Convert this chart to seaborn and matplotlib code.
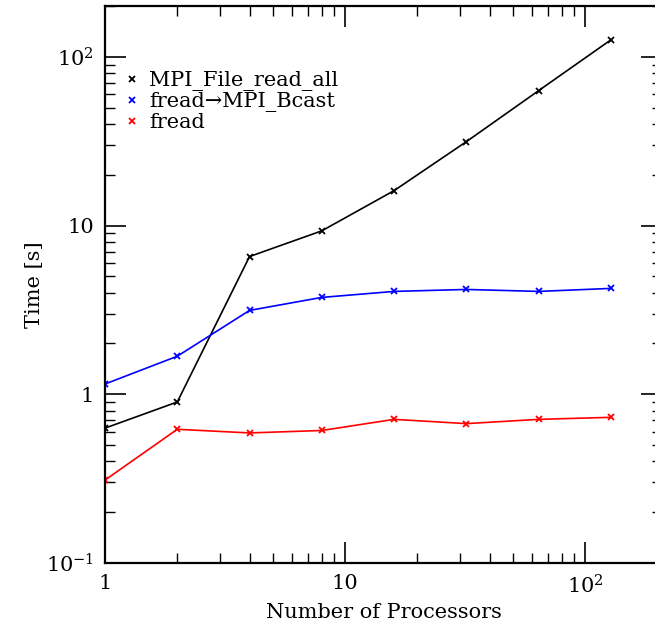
import numpy as np
import pandas as pd
import matplotlib
matplotlib.use("Agg")
import matplotlib.pyplot as plt
import matplotlib.ticker as mticker
from matplotlib.lines import Line2D
import seaborn as sns

# ---------------------- DATOS ----------------------
procs = [1, 2, 4, 8, 16, 32, 64, 128]
t_read_all = [0.63, 0.90, 6.55, 9.3, 16.1, 31.4, 63.0, 126.0]
t_bcast = [1.15, 1.68, 3.14, 3.75, 4.07, 4.18, 4.07, 4.24]
t_fread = [0.31, 0.62, 0.59, 0.61, 0.71, 0.67, 0.71, 0.73]
series = ["MPI_File_read_all", "fread\u2192MPI_Bcast", "fread"]
colors = ["black", "blue", "red"]
y_ticks = [0.1, 1, 10, 100]
y_labels = ["$10^{-1}$", "1", "10", "$10^{2}$"]
x_ticks = [1, 10, 100]
x_labels = ["1", "10", "$10^{2}$"]
# ---------------------------------------------------

df = pd.DataFrame({
    "procs": procs * 3,
    "time": t_read_all + t_bcast + t_fread,
    "method": [series[0]] * 8 + [series[1]] * 8 + [series[2]] * 8,
})

sns.set_style("ticks", {"axes.edgecolor": "black", "text.color": "black",
                        "axes.labelcolor": "black", "xtick.color": "black",
                        "ytick.color": "black"})
plt.rcParams["font.family"] = ["DejaVu Serif"]
plt.rcParams["mathtext.fontset"] = "dejavuserif"

fig = plt.figure(figsize=(6.55, 6.23), dpi=100)
ax = fig.add_axes([105 / 655, 60 / 623, 557 / 655, 557 / 623])

sns.lineplot(data=df, x="procs", y="time", hue="method", palette=colors,
             hue_order=series, marker="x", markersize=5, markeredgewidth=1.3,
             linewidth=1.2, legend=False, ax=ax)
# seaborn pone el borde del marcador en blanco; usar el color de la línea
for line in ax.get_lines():
    line.set_markeredgecolor(line.get_color())

ax.set_xscale("log")
ax.set_yscale("log")
ax.set_xlim(1, 209)
ax.set_ylim(0.1, 200)

ax.set_xticks(x_ticks)
ax.set_xticklabels(x_labels)
ax.set_yticks(y_ticks)
ax.set_yticklabels(y_labels)
ax.xaxis.set_minor_locator(mticker.LogLocator(base=10, subs=np.arange(2, 10)))
ax.yaxis.set_minor_locator(mticker.LogLocator(base=10, subs=np.arange(2, 10)))
ax.xaxis.set_minor_formatter(mticker.NullFormatter())
ax.yaxis.set_minor_formatter(mticker.NullFormatter())
ax.tick_params(which="both", direction="in", top=True, right=True,
               labelsize=15, pad=8, colors="black")
ax.tick_params(which="major", length=15, width=1.2)
ax.tick_params(which="minor", length=7, width=1.0)
for s in ax.spines.values():
    s.set_linewidth(1.6)
    s.set_color("black")

ax.set_xlabel("Number of Processors", fontsize=15, labelpad=4)
ax.set_ylabel("Time [s]", fontsize=15, labelpad=1)

handles = [Line2D([], [], color=c, marker="x", linestyle="none",
                  markersize=5, markeredgewidth=1.3) for c in colors]
ax.legend(handles, series, loc="upper left", bbox_to_anchor=(0.0, 0.92),
          frameon=False, fontsize=15, handlelength=0.6, handletextpad=0.5,
          labelspacing=0.05, borderaxespad=0.6)

fig.savefig("out.png", dpi=100)
